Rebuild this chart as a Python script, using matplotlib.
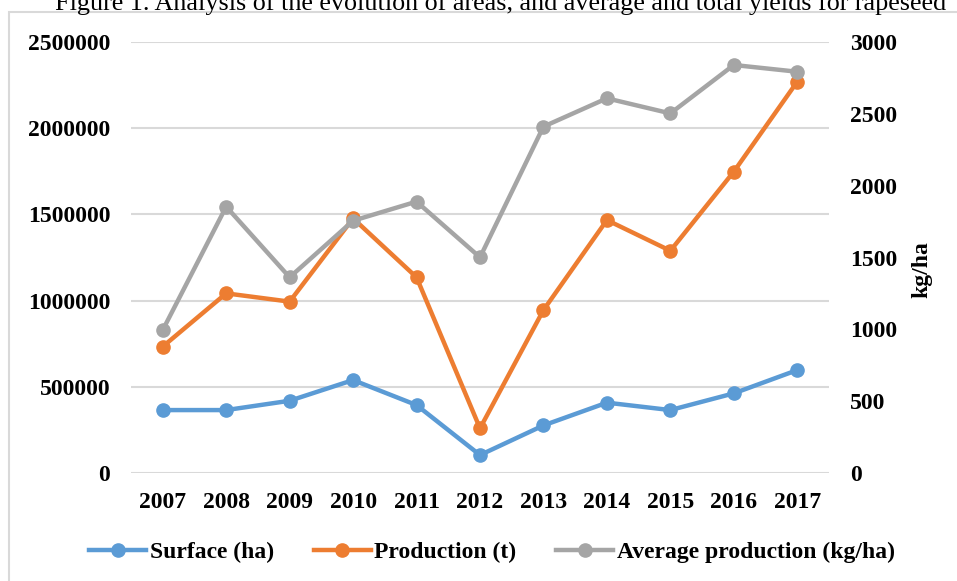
import matplotlib
matplotlib.use("Agg")
import matplotlib.pyplot as plt
from matplotlib.patches import Rectangle

years = ["2007", "2008", "2009", "2010", "2011", "2012", "2013", "2014", "2015", "2016", "2017"]
surface = [365000, 365000, 419000, 539000, 394000, 104000, 276000, 408000, 365000, 462000, 597000]
production = [733000, 1042000, 994000, 1477000, 1135000, 259000, 945000, 1467000, 1289000, 1748000, 2270000]
avg_prod = [995, 1854, 1362, 1756, 1889, 1501, 2411, 2608, 2503, 2840, 2793]

left_ticks = [0, 500000, 1000000, 1500000, 2000000, 2500000]
right_ticks = [0, 500, 1000, 1500, 2000, 2500, 3000]

BLUE = "#5B9BD5"
ORANGE = "#ED7D31"
GRAY = "#A5A5A5"
GRID = "#D9D9D9"

plt.rcParams['font.family'] = ['Liberation Serif', 'DejaVu Serif']

W, H = 957, 581
fig = plt.figure(figsize=(W / 100, H / 100), dpi=100)

# outer chart border (extends past right/bottom edges)
fig.patches.append(Rectangle((9 / W, -0.05), 1.1, 1 - 12 / H + 0.05, transform=fig.transFigure,
                             fill=False, edgecolor=GRID, linewidth=1.5))

fig.text(501 / W, 1 - 10 / H, "Figure 1. Analysis of the evolution of areas, and average and total yields for rapeseed",
         ha="center", va="baseline", fontsize=18.8, color="black")

ax = fig.add_axes([131 / W, 1 - 473 / H, (829 - 131) / W, (473 - 42) / H])
ax2 = ax.twinx()

x = list(range(len(years)))
lw = 3.2
ms = 9.5
l1, = ax.plot(x, surface, color=BLUE, lw=lw, marker="o", ms=ms, label="Surface (ha)", zorder=3)
l2, = ax.plot(x, production, color=ORANGE, lw=lw, marker="o", ms=ms, label="Production (t)", zorder=3)
l3, = ax2.plot(x, avg_prod, color=GRAY, lw=lw, marker="o", ms=ms, label="Average production (kg/ha)", zorder=3)

ax.set_xlim(-0.5, len(years) - 0.5)
ax.set_ylim(0, 2500000)
ax2.set_ylim(0, 3000)
ax.set_yticks(left_ticks)
ax.set_yticklabels([str(v) for v in left_ticks])
ax2.set_yticks(right_ticks)
ax2.set_yticklabels([str(v) for v in right_ticks])
ax.set_xticks(x)
ax.set_xticklabels(years)

for a in (ax, ax2):
    for s in a.spines.values():
        s.set_visible(False)
    a.tick_params(length=0, labelsize=17)
    for lab in a.get_xticklabels() + a.get_yticklabels():
        lab.set_fontweight("bold")
ax.tick_params(axis="y", pad=15)
ax2.tick_params(axis="y", pad=15)
ax.tick_params(axis="x", pad=14)

ax.yaxis.grid(True, color=GRID, lw=1.5)
ax.set_axisbelow(True)

fig.text(922 / W, 1 - 270 / H, "kg/ha", rotation=90, ha="center", va="center",
         fontsize=17, fontweight="bold")

leg = fig.legend(handles=[l1, l2, l3], loc="center", bbox_to_anchor=(492 / W, 1 - 552 / H),
                 ncol=3, frameon=False, prop={"weight": "bold", "size": 17},
                 handlelength=2.4, columnspacing=1.7, handletextpad=0.15)

fig.savefig("out.png", dpi=100)
